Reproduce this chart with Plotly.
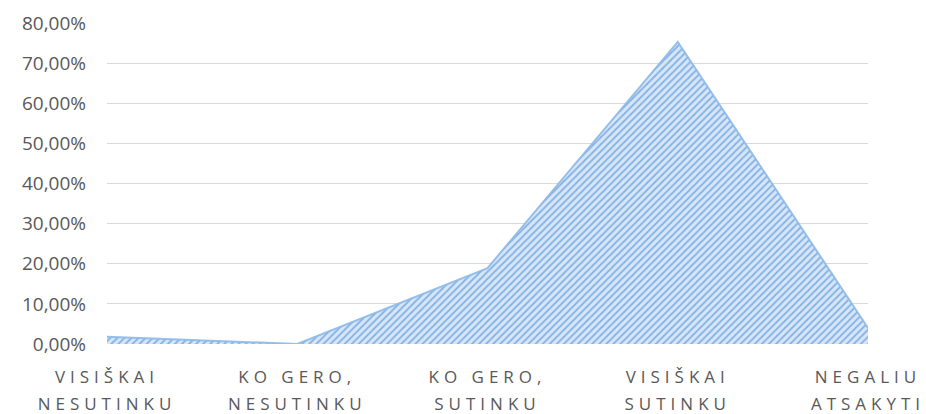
import plotly.graph_objects as go

categories = ["VISIŠKAI<br>NESUTINKU", "KO GERO,<br>NESUTINKU", "KO GERO,<br>SUTINKU",
              "VISIŠKAI<br>SUTINKU", "NEGALIU<br>ATSAKYTI"]
values = [0.018, 0.0, 0.189, 0.753, 0.040]
y_ticks = [0, 0.1, 0.2, 0.3, 0.4, 0.5, 0.6, 0.7, 0.8]
y_tick_labels = ["0,00%", "10,00%", "20,00%", "30,00%", "40,00%", "50,00%", "60,00%", "70,00%", "80,00%"]

fig = go.Figure()
fig.add_trace(go.Scatter(
    x=categories, y=values, mode="lines", fill="tozeroy",
    line=dict(color="rgba(140,185,232,0.9)", width=2),
    fillcolor="#d5e5f6",
    fillpattern=dict(shape="/", fgcolor="#3480d6", bgcolor="#d8e7f7", size=5, solidity=0.4),
    hoverinfo="skip",
))

fig.update_layout(
    width=926, height=414,
    margin=dict(l=107, r=58, t=23, b=70, autoexpand=False),
    paper_bgcolor="white", plot_bgcolor="white",
    showlegend=False,
    font=dict(family="Open Sans, Liberation Sans, sans-serif", color="#595959", size=17),
    xaxis=dict(type="category", range=[0, 4], showgrid=False, showline=False, zeroline=False,
               ticks="", ticklabelstandoff=21, tickfont=dict(size=17, color="#595959")),
    yaxis=dict(range=[0, 0.8], tickvals=y_ticks, ticktext=y_tick_labels,
               showgrid=True, gridcolor="#d9d9d9", gridwidth=1, zeroline=False,
               showline=False, ticks="", ticklen=0, ticklabelstandoff=20,
               tickfont=dict(size=19, color="#595959")),
)
post = """
document.body.style.margin = '0';
document.body.style.overflow = 'hidden';
document.querySelectorAll('.xtick text').forEach(function(t){
  t.style.letterSpacing='5px';
  var ts = t.querySelectorAll('tspan.line');
  for (var i = 1; i < ts.length; i++) { ts[i].setAttribute('dy', '1.6em'); }
});
"""
fig.write_html("out.html", post_script=post, config={"displayModeBar": False})
